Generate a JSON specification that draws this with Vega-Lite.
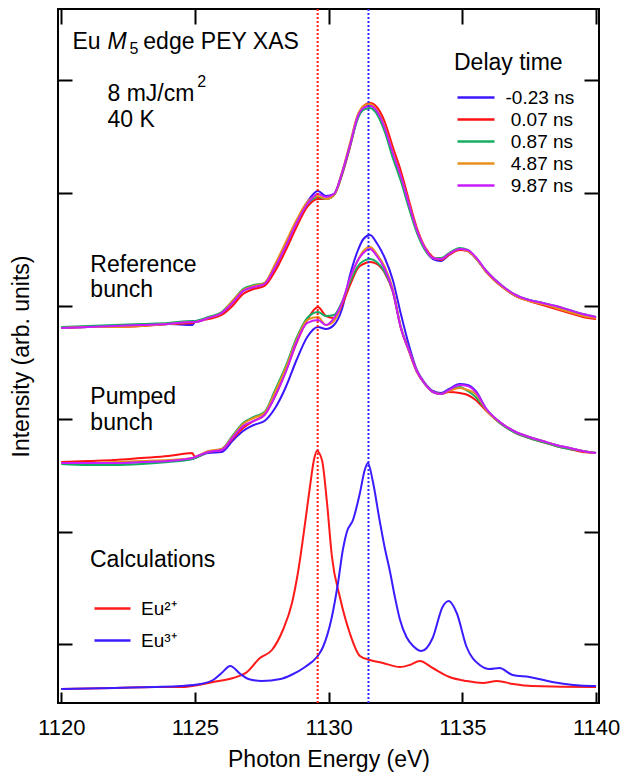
{
"$schema": "https://vega.github.io/schema/vega-lite/v6.json",
"width": 541, "height": 694,
"autosize": "none",
"padding": {"left": 58, "top": 9, "right": 35, "bottom": 69},
"config": {"font": "Liberation Sans", "view": {"stroke": "black", "strokeWidth": 2}},
"datasets": {
"exp": [
{"g":"R","x":1120.0,"a":375,"b":375,"c":376,"d":375,"e":375},
{"g":"R","x":1121.0,"a":376,"b":376,"c":377,"d":376,"e":376},
{"g":"R","x":1122.0,"a":377,"b":376,"c":378,"d":376,"e":377},
{"g":"R","x":1123.0,"a":378,"b":377,"c":379,"d":377,"e":378},
{"g":"R","x":1124.0,"a":379,"b":379,"c":380,"d":379,"e":379},
{"g":"R","x":1124.9,"a":378,"b":380,"c":382,"d":381,"e":381},
{"g":"R","x":1125.0,"a":381,"b":381,"c":382,"d":381,"e":381},
{"g":"R","x":1125.5,"a":385,"b":384,"c":386,"d":385,"e":385},
{"g":"R","x":1126.0,"a":390,"b":388,"c":391,"d":390,"e":390},
{"g":"R","x":1126.4,"a":400,"b":397,"c":402,"d":402,"e":400},
{"g":"R","x":1126.8,"a":412,"b":409,"c":414,"d":413,"e":412},
{"g":"R","x":1127.2,"a":416,"b":414,"c":418,"d":417,"e":416},
{"g":"R","x":1127.6,"a":419,"b":417,"c":420,"d":420,"e":419},
{"g":"R","x":1128.0,"a":436,"b":432,"c":438,"d":439,"e":436},
{"g":"R","x":1128.4,"a":458,"b":453,"c":459,"d":461,"e":457},
{"g":"R","x":1128.8,"a":481,"b":476,"c":481,"d":483,"e":480},
{"g":"R","x":1129.2,"a":501,"b":496,"c":499,"d":501,"e":499},
{"g":"R","x":1129.6,"a":512,"b":504,"c":506,"d":507,"e":509},
{"g":"R","x":1129.9,"a":507,"b":504,"c":504,"d":504,"e":506},
{"g":"R","x":1130.2,"a":509,"b":508,"c":508,"d":508,"e":509},
{"g":"R","x":1130.5,"a":530,"b":528,"c":529,"d":531,"e":530},
{"g":"R","x":1130.8,"a":558,"b":556,"c":557,"d":560,"e":558},
{"g":"R","x":1131.1,"a":588,"b":587,"c":585,"d":589,"e":587},
{"g":"R","x":1131.3,"a":595,"b":597,"c":593,"d":597,"e":595},
{"g":"R","x":1131.55,"a":598,"b":600,"c":595,"d":599,"e":597},
{"g":"R","x":1131.8,"a":592,"b":596,"c":589,"d":593,"e":592},
{"g":"R","x":1132.1,"a":575,"b":581,"c":571,"d":576,"e":575},
{"g":"R","x":1132.4,"a":550,"b":556,"c":545,"d":551,"e":550},
{"g":"R","x":1132.7,"a":526,"b":532,"c":522,"d":527,"e":527},
{"g":"R","x":1133.0,"a":498,"b":503,"c":495,"d":500,"e":499},
{"g":"R","x":1133.3,"a":472,"b":475,"c":470,"d":473,"e":473},
{"g":"R","x":1133.6,"a":454,"b":456,"c":453,"d":455,"e":455},
{"g":"R","x":1133.9,"a":444,"b":446,"c":445,"d":445,"e":445},
{"g":"R","x":1134.2,"a":442,"b":443,"c":445,"d":444,"e":444},
{"g":"R","x":1134.5,"a":448,"b":448,"c":450,"d":449,"e":449},
{"g":"R","x":1134.9,"a":454,"b":453,"c":455,"d":454,"e":454},
{"g":"R","x":1135.2,"a":452,"b":452,"c":453,"d":452,"e":453},
{"g":"R","x":1135.5,"a":445,"b":445,"c":445,"d":445,"e":446},
{"g":"R","x":1135.9,"a":431,"b":431,"c":432,"d":431,"e":432},
{"g":"R","x":1136.5,"a":416,"b":416,"c":417,"d":416,"e":417},
{"g":"R","x":1137.0,"a":407,"b":407,"c":408,"d":407,"e":408},
{"g":"R","x":1137.5,"a":403,"b":402,"c":403,"d":402,"e":403},
{"g":"R","x":1138.0,"a":400,"b":398,"c":400,"d":399,"e":400},
{"g":"R","x":1138.5,"a":396,"b":394,"c":397,"d":395,"e":397},
{"g":"R","x":1139.0,"a":392,"b":390,"c":393,"d":391,"e":393},
{"g":"R","x":1139.5,"a":388,"b":386,"c":389,"d":387,"e":389},
{"g":"R","x":1140.0,"a":385,"b":384,"c":386,"d":385,"e":386},
{"g":"P","x":1120.0,"a":240,"b":241,"c":239,"d":240,"e":240},
{"g":"P","x":1121.0,"a":240,"b":242,"c":238,"d":240,"e":240},
{"g":"P","x":1122.0,"a":240,"b":243,"c":238,"d":241,"e":240},
{"g":"P","x":1123.0,"a":241,"b":245,"c":239,"d":242,"e":241},
{"g":"P","x":1124.0,"a":242,"b":247,"c":241,"d":243,"e":242},
{"g":"P","x":1124.9,"a":244,"b":250,"c":244,"d":245,"e":245},
{"g":"P","x":1125.0,"a":245,"b":246,"c":245,"d":246,"e":246},
{"g":"P","x":1125.5,"a":250,"b":251,"c":251,"d":252,"e":251},
{"g":"P","x":1126.0,"a":251,"b":253,"c":254,"d":254,"e":253},
{"g":"P","x":1126.4,"a":262,"b":264,"c":267,"d":266,"e":265},
{"g":"P","x":1126.8,"a":272,"b":275,"c":280,"d":279,"e":277},
{"g":"P","x":1127.2,"a":278,"b":282,"c":286,"d":285,"e":282},
{"g":"P","x":1127.6,"a":282,"b":288,"c":291,"d":290,"e":288},
{"g":"P","x":1128.0,"a":295,"b":307,"c":313,"d":311,"e":307},
{"g":"P","x":1128.4,"a":316,"b":332,"c":337,"d":335,"e":331},
{"g":"P","x":1128.8,"a":343,"b":360,"c":365,"d":363,"e":361},
{"g":"P","x":1129.2,"a":366,"b":383,"c":385,"d":383,"e":380},
{"g":"P","x":1129.6,"a":376,"b":396,"c":391,"d":386,"e":383},
{"g":"P","x":1129.9,"a":374,"b":387,"c":387,"d":378,"e":378},
{"g":"P","x":1130.2,"a":378,"b":385,"c":388,"d":382,"e":385},
{"g":"P","x":1130.5,"a":394,"b":398,"c":401,"d":400,"e":400},
{"g":"P","x":1130.8,"a":428,"b":418,"c":421,"d":424,"e":425},
{"g":"P","x":1131.1,"a":453,"b":435,"c":437,"d":443,"e":443},
{"g":"P","x":1131.3,"a":464,"b":439,"c":442,"d":452,"e":450},
{"g":"P","x":1131.55,"a":468,"b":441,"c":444,"d":456,"e":454},
{"g":"P","x":1131.8,"a":460,"b":439,"c":441,"d":449,"e":447},
{"g":"P","x":1132.1,"a":445,"b":430,"c":431,"d":436,"e":434},
{"g":"P","x":1132.4,"a":423,"b":411,"c":412,"d":414,"e":412},
{"g":"P","x":1132.7,"a":389,"b":375,"c":376,"d":376,"e":375},
{"g":"P","x":1133.0,"a":358,"b":352,"c":353,"d":353,"e":353},
{"g":"P","x":1133.3,"a":333,"b":331,"c":332,"d":332,"e":332},
{"g":"P","x":1133.6,"a":320,"b":319,"c":319,"d":319,"e":319},
{"g":"P","x":1133.9,"a":312,"b":311,"c":311,"d":311,"e":311},
{"g":"P","x":1134.2,"a":310,"b":309,"c":309,"d":309,"e":309},
{"g":"P","x":1134.5,"a":314,"b":311,"c":313,"d":312,"e":313},
{"g":"P","x":1134.9,"a":319,"b":310,"c":316,"d":315,"e":318},
{"g":"P","x":1135.2,"a":318,"b":308,"c":312,"d":313,"e":317},
{"g":"P","x":1135.5,"a":312,"b":303,"c":306,"d":309,"e":311},
{"g":"P","x":1135.9,"a":294,"b":292,"c":293,"d":293,"e":294},
{"g":"P","x":1136.5,"a":279,"b":278,"c":278,"d":279,"e":279},
{"g":"P","x":1137.0,"a":271,"b":270,"c":270,"d":271,"e":271},
{"g":"P","x":1137.5,"a":266,"b":265,"c":265,"d":266,"e":266},
{"g":"P","x":1138.0,"a":262,"b":261,"c":261,"d":262,"e":262},
{"g":"P","x":1138.5,"a":258,"b":257,"c":257,"d":258,"e":258},
{"g":"P","x":1139.0,"a":255,"b":254,"c":254,"d":255,"e":255},
{"g":"P","x":1139.5,"a":252,"b":251,"c":252,"d":252,"e":252},
{"g":"P","x":1140.0,"a":250,"b":250,"c":250,"d":250,"e":250}
],
"calc": [
{"ion":"Eu²⁺","x":1120.0,"I":14},{"ion":"Eu²⁺","x":1122.0,"I":15},{"ion":"Eu²⁺","x":1123.5,"I":16},
{"ion":"Eu²⁺","x":1124.46,"I":16},{"ion":"Eu²⁺","x":1125.68,"I":21},{"ion":"Eu²⁺","x":1126.43,"I":25},
{"ion":"Eu²⁺","x":1126.95,"I":31},{"ion":"Eu²⁺","x":1127.43,"I":45},{"ion":"Eu²⁺","x":1127.88,"I":53},
{"ion":"Eu²⁺","x":1128.29,"I":73},{"ion":"Eu²⁺","x":1128.63,"I":100},{"ion":"Eu²⁺","x":1128.85,"I":130},
{"ion":"Eu²⁺","x":1129.12,"I":180},{"ion":"Eu²⁺","x":1129.3,"I":216},{"ion":"Eu²⁺","x":1129.45,"I":243},
{"ion":"Eu²⁺","x":1129.56,"I":252},{"ion":"Eu²⁺","x":1129.75,"I":243},{"ion":"Eu²⁺","x":1129.94,"I":200},
{"ion":"Eu²⁺","x":1130.12,"I":147},{"ion":"Eu²⁺","x":1130.42,"I":106},{"ion":"Eu²⁺","x":1130.79,"I":70},
{"ion":"Eu²⁺","x":1131.17,"I":47},{"ion":"Eu²⁺","x":1131.54,"I":43},{"ion":"Eu²⁺","x":1132.03,"I":40},
{"ion":"Eu²⁺","x":1132.66,"I":36},{"ion":"Eu²⁺","x":1133.03,"I":38},{"ion":"Eu²⁺","x":1133.41,"I":42},
{"ion":"Eu²⁺","x":1133.89,"I":35},{"ion":"Eu²⁺","x":1134.52,"I":26},{"ion":"Eu²⁺","x":1135.15,"I":22},
{"ion":"Eu²⁺","x":1135.77,"I":20},{"ion":"Eu²⁺","x":1136.3,"I":22},{"ion":"Eu²⁺","x":1136.9,"I":19},
{"ion":"Eu²⁺","x":1137.6,"I":17},{"ion":"Eu²⁺","x":1139.86,"I":16},{"ion":"Eu²⁺","x":1140.0,"I":16},
{"ion":"Eu³⁺","x":1120.0,"I":14},{"ion":"Eu³⁺","x":1122.0,"I":15},{"ion":"Eu³⁺","x":1123.5,"I":16},
{"ion":"Eu³⁺","x":1124.46,"I":17},{"ion":"Eu³⁺","x":1125.2,"I":19},{"ion":"Eu³⁺","x":1125.68,"I":23},
{"ion":"Eu³⁺","x":1126.0,"I":30},{"ion":"Eu³⁺","x":1126.32,"I":37},{"ion":"Eu³⁺","x":1126.7,"I":29},
{"ion":"Eu³⁺","x":1127.0,"I":24},{"ion":"Eu³⁺","x":1127.5,"I":22},{"ion":"Eu³⁺","x":1128.2,"I":24},
{"ion":"Eu³⁺","x":1128.6,"I":28},{"ion":"Eu³⁺","x":1129.12,"I":36},{"ion":"Eu³⁺","x":1129.56,"I":46},
{"ion":"Eu³⁺","x":1129.79,"I":56},{"ion":"Eu³⁺","x":1130.12,"I":86},{"ion":"Eu³⁺","x":1130.35,"I":120},
{"ion":"Eu³⁺","x":1130.53,"I":153},{"ion":"Eu³⁺","x":1130.68,"I":171},{"ion":"Eu³⁺","x":1130.91,"I":183},
{"ion":"Eu³⁺","x":1131.17,"I":210},{"ion":"Eu³⁺","x":1131.35,"I":233},{"ion":"Eu³⁺","x":1131.47,"I":240},
{"ion":"Eu³⁺","x":1131.65,"I":222},{"ion":"Eu³⁺","x":1131.91,"I":182},{"ion":"Eu³⁺","x":1132.1,"I":155},
{"ion":"Eu³⁺","x":1132.29,"I":132},{"ion":"Eu³⁺","x":1132.47,"I":107},{"ion":"Eu³⁺","x":1132.66,"I":84},
{"ion":"Eu³⁺","x":1132.91,"I":66},{"ion":"Eu³⁺","x":1133.16,"I":57},{"ion":"Eu³⁺","x":1133.47,"I":52},
{"ion":"Eu³⁺","x":1133.89,"I":65},{"ion":"Eu³⁺","x":1134.26,"I":96},{"ion":"Eu³⁺","x":1134.49,"I":102},
{"ion":"Eu³⁺","x":1134.79,"I":90},{"ion":"Eu³⁺","x":1135.16,"I":56},{"ion":"Eu³⁺","x":1135.65,"I":38},
{"ion":"Eu³⁺","x":1136.02,"I":34},{"ion":"Eu³⁺","x":1136.39,"I":35},{"ion":"Eu³⁺","x":1136.88,"I":28},
{"ion":"Eu³⁺","x":1137.51,"I":26},{"ion":"Eu³⁺","x":1138.36,"I":21},{"ion":"Eu³⁺","x":1139.86,"I":17},
{"ion":"Eu³⁺","x":1140.0,"I":17}
],
"txt": [
{"x":1120.42,"I":654,"t":"Eu"},
{"x":1123.07,"I":654,"t":"edge PEY XAS"},
{"x":1121.73,"I":602,"t":"8 mJ/cm"},
{"x":1121.73,"I":576,"t":"40 K"},
{"x":1121.09,"I":431,"t":"Reference"},
{"x":1121.09,"I":406,"t":"bunch"},
{"x":1121.09,"I":299,"t":"Pumped"},
{"x":1121.09,"I":273,"t":"bunch"}
]
},
"layer": [
{
"data": {"name": "exp"},
"transform": [{"fold": ["a","b","c","d","e"], "as": ["delay","I"]}],
"mark": {"type": "line", "interpolate": "monotone", "strokeWidth": 2},
"encoding": {
"x": {"field": "x", "type": "quantitative", "scale": {"domain": [1119.88, 1140.11], "nice": false, "zero": false},
 "axis": {"orient": "bottom", "values": [1120,1125,1130,1135,1140], "format": "d", "labelFontSize": 22, "labelColor": "black", "tickSize": -11, "tickWidth": 2, "tickColor": "black", "domain": false, "grid": false, "labelPadding": 25, "title": "Photon Energy (eV)", "titleFontSize": 23, "titleFontWeight": "normal", "titleColor": "black", "titlePadding": 10}},
"y": {"field": "I", "type": "quantitative", "scale": {"domain": [0, 694], "nice": false, "zero": false},
 "axis": {"orient": "left", "values": [59,171,284,397,510,623], "labels": false, "tickSize": -14, "tickWidth": 2, "tickColor": "black", "domain": false, "grid": false, "title": "Intensity (arb. units)", "titleFontSize": 23, "titleFontWeight": "normal", "titleColor": "black", "titlePadding": 24}},
"color": {"field": "delay", "type": "nominal", "scale": {"domain": ["a","b","c","d","e"], "range": ["#3A17FF","#FF1212","#14AD62","#E8901C","#C81CFF"]},
 "legend": {"title": "Delay time", "orient": "none", "legendX": 396, "legendY": 43, "padding": 0, "titleFontSize": 23, "titleFontWeight": "normal", "titleColor": "black", "titlePadding": 11, "labelFontSize": 19, "labelColor": "black", "labelOffset": 18, "symbolType": "M-1.85,0H1.85", "symbolSize": 400, "symbolStrokeWidth": 2.5, "symbolOffset": 10.5, "rowPadding": 0,
  "labelExpr": "datum.label == 'a' ? '-0.23 ns' : datum.label == 'b' ? '\u200b\u00a00.07 ns' : datum.label == 'c' ? '\u200b\u00a00.87 ns' : datum.label == 'd' ? '\u200b\u00a04.87 ns' : '\u200b\u00a09.87 ns'"}},
"detail": {"field": "g"}
}
},
{
"data": {"name": "calc"},
"mark": {"type": "line", "interpolate": "monotone", "strokeWidth": 2},
"encoding": {
"x": {"field": "x", "type": "quantitative",
 "axis": {"orient": "top", "values": [1120,1125,1130,1135,1140], "labels": false, "tickSize": -15, "tickWidth": 2, "tickColor": "black", "domain": false, "grid": false, "title": null}},
"y": {"field": "I", "type": "quantitative",
 "axis": {"orient": "right", "values": [59,171,284,397,510,623], "labels": false, "tickSize": -15, "tickWidth": 2, "tickColor": "black", "domain": false, "grid": false, "title": null}},
"stroke": {"field": "ion", "type": "nominal", "scale": {"domain": ["Eu²⁺","Eu³⁺"], "range": ["#FF1A1A","#3A1CFF"]},
 "legend": {"title": "Calculations", "orient": "none", "legendX": 32, "legendY": 540, "padding": 0, "titleFontSize": 23, "titleFontWeight": "normal", "titleColor": "black", "titlePadding": 17, "labelFontSize": 19, "labelColor": "black", "labelOffset": 9, "symbolType": "stroke", "symbolSize": 1296, "symbolStrokeWidth": 2.5, "symbolOffset": 3, "rowPadding": 2}}
}
},
{
"data": {"values": [{"x": 1129.59}]},
"mark": {"type": "rule", "color": "#FF1A1A", "strokeWidth": 2, "strokeDash": [2, 2]},
"encoding": {"x": {"field": "x", "type": "quantitative", "axis": null}}
},
{
"data": {"values": [{"x": 1131.49}]},
"mark": {"type": "rule", "color": "#2A2AFF", "strokeWidth": 2, "strokeDash": [2, 2]},
"encoding": {"x": {"field": "x", "type": "quantitative", "axis": null}}
},
{
"data": {"name": "txt"},
"mark": {"type": "text", "align": "left", "baseline": "alphabetic", "fontSize": 23, "color": "black"},
"encoding": {"x": {"field": "x", "type": "quantitative", "axis": null}, "y": {"field": "I", "type": "quantitative", "axis": null}, "text": {"field": "t"}}
},
{
"data": {"values": [{"x": 1121.73, "I": 654, "t": "M"}]},
"mark": {"type": "text", "align": "left", "baseline": "alphabetic", "fontSize": 23, "fontStyle": "italic", "color": "black"},
"encoding": {"x": {"field": "x", "type": "quantitative", "axis": null}, "y": {"field": "I", "type": "quantitative", "axis": null}, "text": {"field": "t"}}
},
{
"data": {"values": [{"x": 1122.55, "I": 649, "t": "5"}, {"x": 1125.09, "I": 616, "t": "2"}]},
"mark": {"type": "text", "align": "left", "baseline": "alphabetic", "fontSize": 16, "color": "black"},
"encoding": {"x": {"field": "x", "type": "quantitative", "axis": null}, "y": {"field": "I", "type": "quantitative", "axis": null}, "text": {"field": "t"}}
}
],
"resolve": {"axis": {"x": "independent", "y": "independent"}}
}
